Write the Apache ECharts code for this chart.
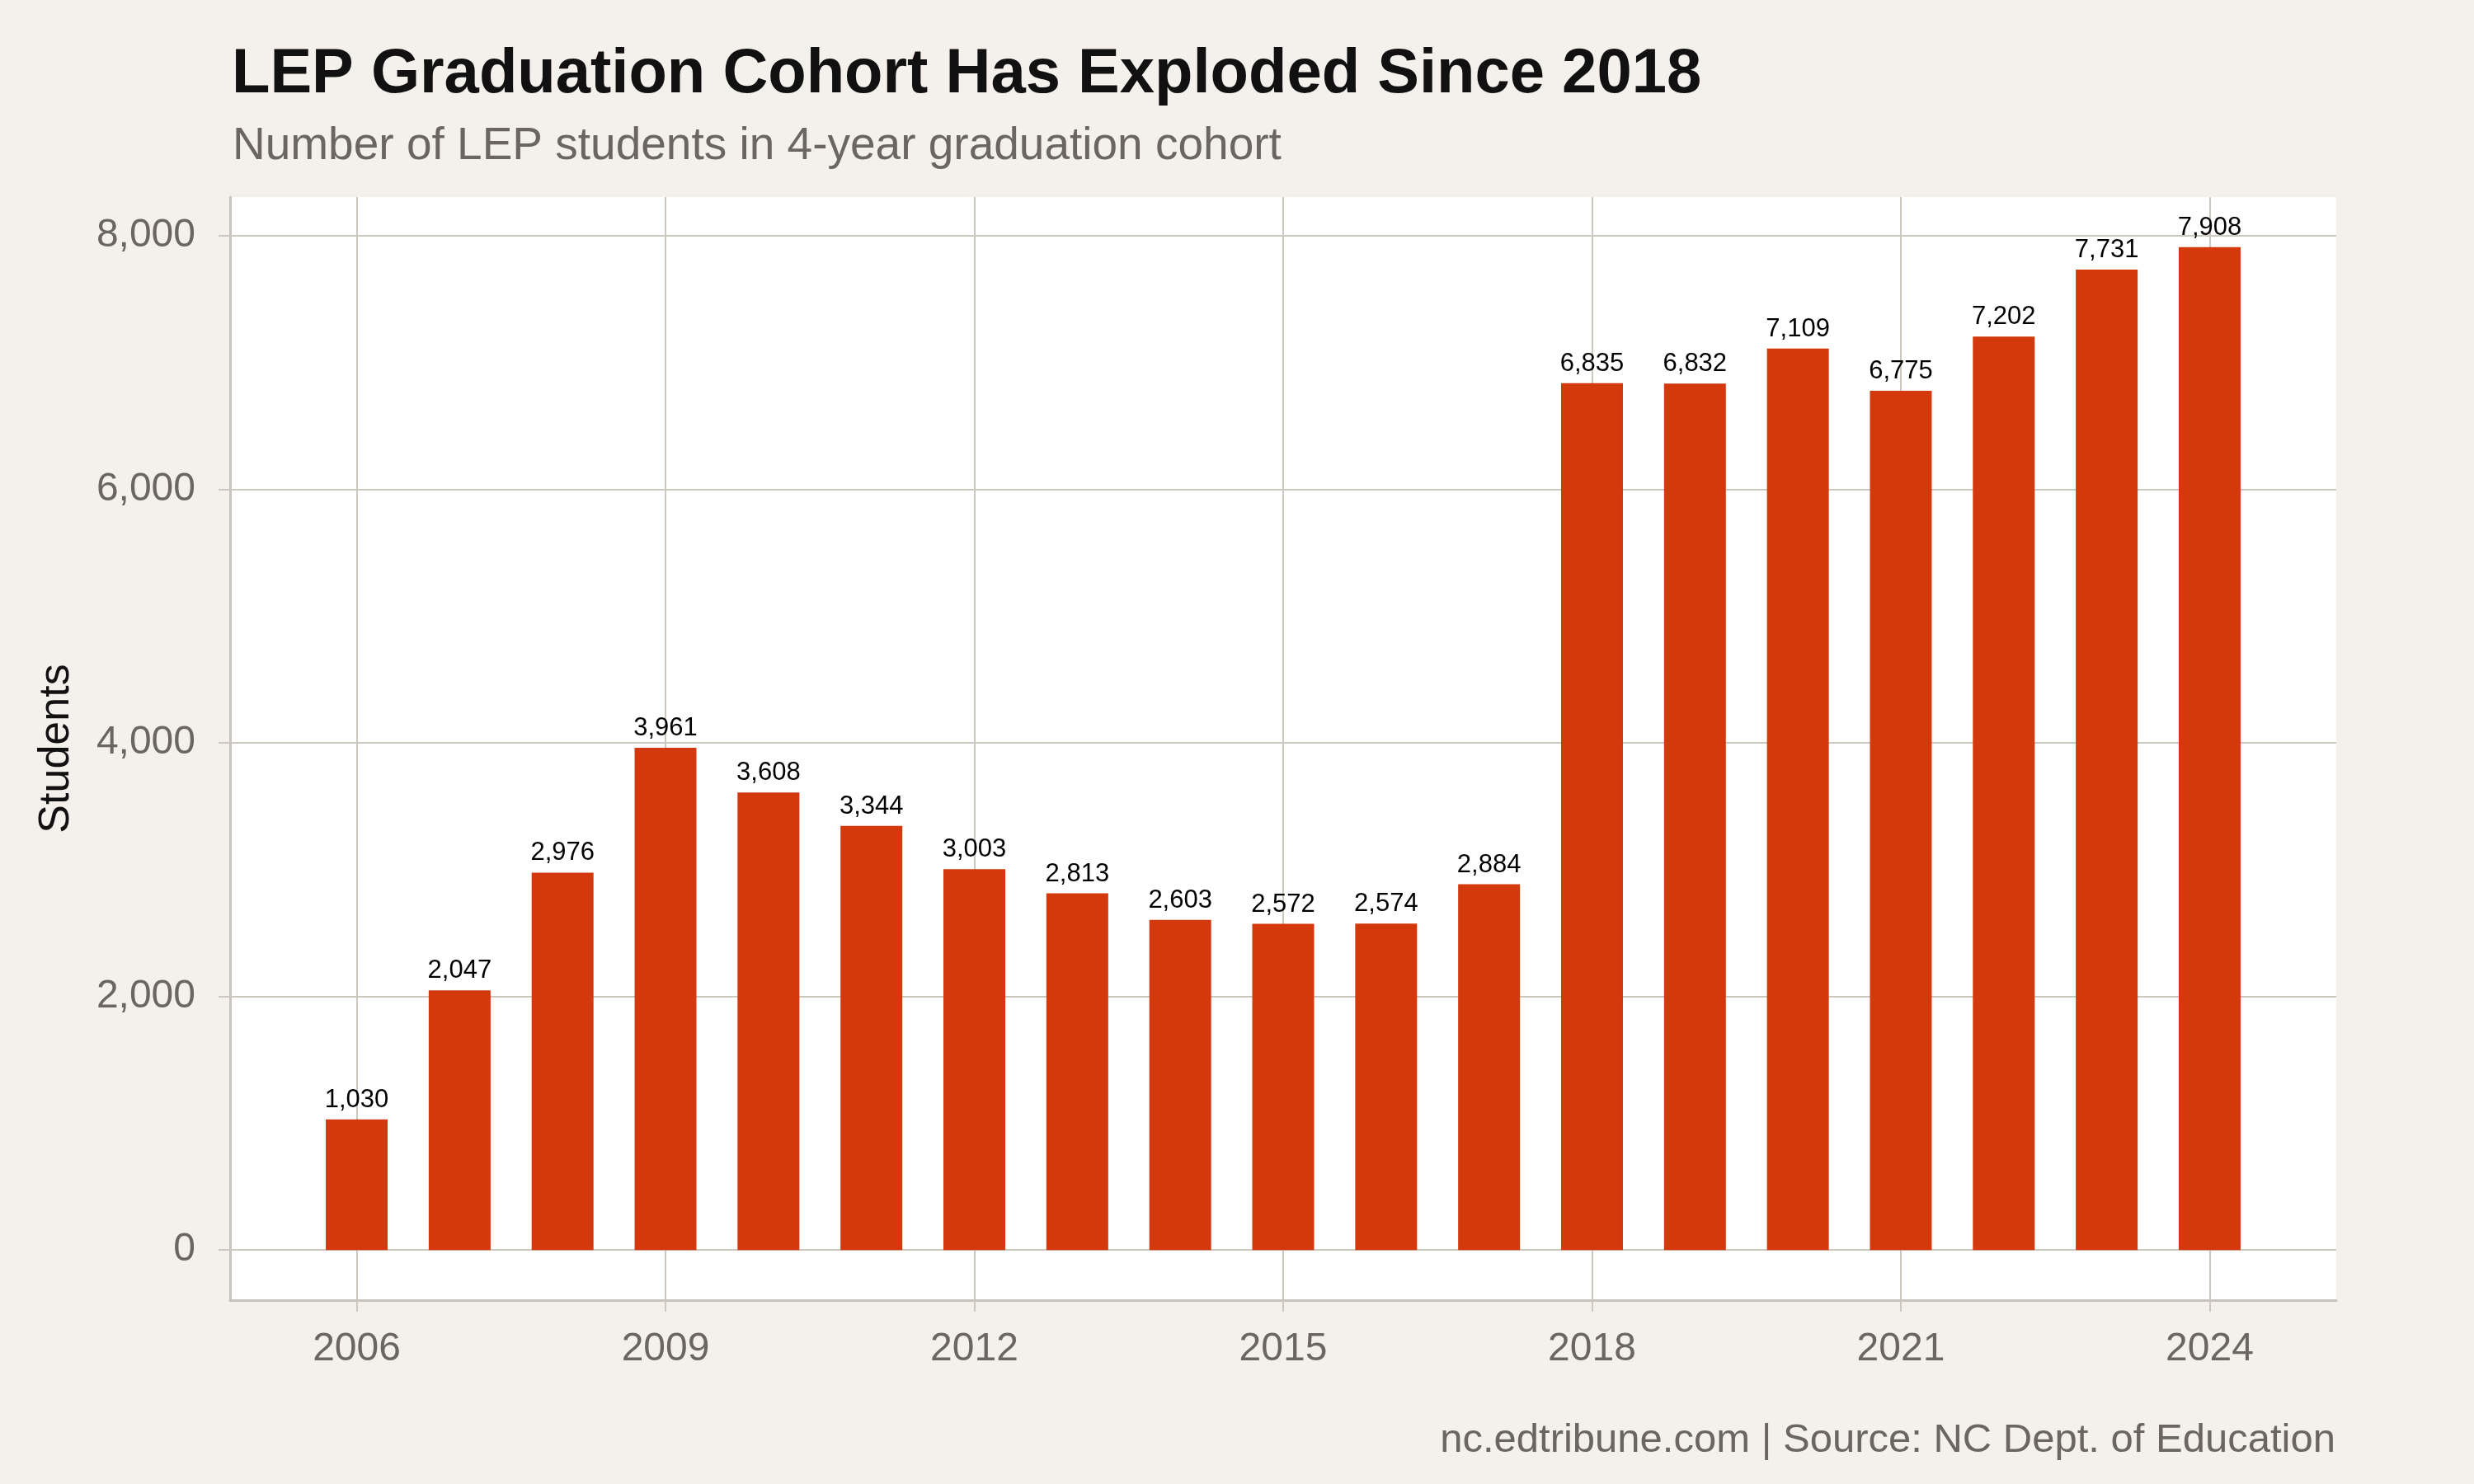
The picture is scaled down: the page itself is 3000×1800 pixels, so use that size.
<!DOCTYPE html>
<html>
<head>
<meta charset="utf-8">
<script src="https://cdn.jsdelivr.net/npm/echarts@6/dist/echarts.min.js"></script>
<style>
  html, body { margin: 0; padding: 0; background: #f4f1ec; }
  #chart { width: 3000px; height: 1800px; }
</style>
</head>
<body>
<div id="chart"></div>
<script>
// cohort size per year
var years = [2006, 2007, 2008, 2009, 2010, 2011, 2012, 2013, 2014, 2015, 2016, 2017, 2018, 2019, 2020, 2021, 2022, 2023, 2024];
var students = [1030, 2047, 2976, 3961, 3608, 3344, 3003, 2813, 2603, 2572, 2574, 2884, 6835, 6832, 7109, 6775, 7202, 7731, 7908];
var xTicks = [2006, 2009, 2012, 2015, 2018, 2021, 2024];
var yTicks = [0, 2000, 4000, 6000, 8000];

var font = 'Liberation Sans, Arial, Helvetica, sans-serif';
var fmt = function (v) { return Number(v).toLocaleString('en-US'); };

var chart = echarts.init(document.getElementById('chart'));
chart.setOption({
    backgroundColor: '#f4f1ec',
    animation: false,
    title: [{
        text: 'LEP Graduation Cohort Has Exploded Since 2018',
        left: 276, top: 48,
        textStyle: { fontFamily: font, fontSize: 76, fontWeight: 'bold', color: '#111' }
    }, {
        text: 'Number of LEP students in 4-year graduation cohort',
        left: 277, top: 145,
        textStyle: { fontFamily: font, fontSize: 55, fontWeight: 'normal', color: '#6b6760' }
    }, {
        text: 'nc.edtribune.com | Source: NC Dept. of Education',
        right: 163, top: 1718,
        textStyle: { fontFamily: font, fontSize: 49, fontWeight: 'normal', color: '#6b6760' }
    }],
    grid: {
        left: 279, right: 167, top: 239, bottom: 223,
        show: true, backgroundColor: '#ffffff', borderWidth: 0
    },
    xAxis: {
        type: 'value',
        min: 2004.77, max: 2025.23,
        axisLine: { show: true, onZero: false, lineStyle: { color: '#c9c4bb', width: 3 } },
        axisTick: { show: true, customValues: xTicks, length: 14, lineStyle: { color: '#cdc8bf', width: 2 } },
        axisLabel: { customValues: xTicks, margin: 36, fontFamily: font, fontSize: 48, color: '#6b6760',
            formatter: function (v) { return String(v); } },
        splitLine: { show: true, lineStyle: { color: '#cdc8bf', width: 2 } }
    },
    yAxis: {
        type: 'value',
        min: -395, max: 8303,
        name: 'Students',
        nameLocation: 'middle',
        nameGap: 184,
        nameRotate: 90,
        nameTextStyle: { fontFamily: font, fontSize: 52, color: '#111' },
        axisLine: { show: true, onZero: false, lineStyle: { color: '#c9c4bb', width: 3 } },
        axisTick: { show: true, customValues: yTicks, length: 14, lineStyle: { color: '#cdc8bf', width: 2 } },
        axisLabel: { customValues: yTicks, margin: 42, fontFamily: font, fontSize: 48, color: '#6b6760',
            formatter: fmt },
        splitLine: { show: true, lineStyle: { color: '#cdc8bf', width: 2 } }
    },
    series: [{
        type: 'bar',
        barWidth: 75,
        itemStyle: { color: '#d4390e' },
        label: {
            show: true, position: 'top', distance: 8,
            fontFamily: font, fontSize: 31, color: '#000',
            formatter: function (p) { return fmt(p.value[1]); }
        },
        data: years.map(function (y, i) { return [y, students[i]]; })
    }]
});
</script>
</body>
</html>
